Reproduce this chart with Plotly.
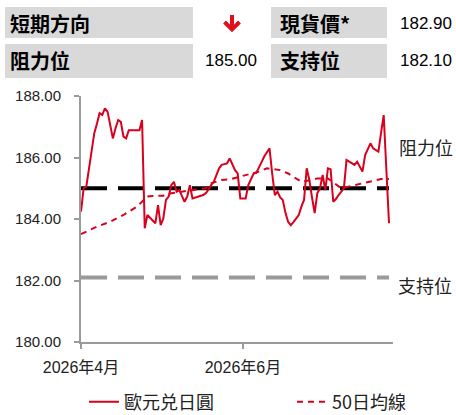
import pandas as pd
import plotly.graph_objects as go

# ---- data ----
start_date = "2026-04-01"
spot_values = [
    184.24, 185.00, 185.05, 185.60, 186.14, 186.79, 187.10, 187.44, 187.38, 187.60,
    187.49, 187.00, 186.62, 186.95, 187.22, 187.16, 186.68, 186.62, 186.89, 186.89,
    186.89, 186.89, 186.89, 187.22, 183.70, 184.13, 184.02, 183.95, 183.86, 184.45,
    183.80, 184.02, 184.62, 184.73, 185.10, 185.21, 184.89, 184.94, 184.75, 184.56,
    184.73, 185.10, 184.67, 184.70, 184.73, 184.75, 184.78, 184.84, 184.95, 185.10,
    185.21, 185.43, 185.65, 185.76, 185.78, 185.81, 185.97, 185.76, 185.59, 185.48,
    184.67, 184.67, 184.67, 185.10, 185.27, 185.48, 185.50, 185.70, 185.85, 186.03,
    186.15, 186.30, 185.48, 184.78, 184.89, 184.70, 184.62, 184.20, 183.91, 183.80,
    183.90, 184.00, 184.13, 184.40, 184.62, 185.65, 185.27, 184.70, 184.19, 184.84,
    185.00, 185.43, 184.94, 185.65, 185.62, 184.56, 184.65, 184.78, 184.90, 185.00,
    185.92, 185.86, 185.80, 185.76, 185.86, 185.70, 185.54, 186.08, 186.30, 186.46,
    186.30, 186.25, 186.19, 186.80, 187.38, 185.60, 183.86,
]
ma_dates = [
    "2026-04-01", "2026-04-03", "2026-04-07", "2026-04-12", "2026-04-17", "2026-04-22",
    "2026-04-24", "2026-04-26", "2026-04-28", "2026-05-02", "2026-05-05", "2026-05-18",
    "2026-05-20", "2026-05-24", "2026-05-27", "2026-06-04", "2026-06-07", "2026-06-10",
    "2026-06-15", "2026-06-18", "2026-06-23", "2026-06-27", "2026-06-29", "2026-07-03",
    "2026-07-08", "2026-07-13", "2026-07-18", "2026-07-23", "2026-07-26",
]
ma_values = [
    183.51, 183.59, 183.75, 183.91, 184.13, 184.40,
    184.56, 184.73, 184.75, 184.76, 184.84, 185.00,
    185.16, 185.27, 185.29, 185.48, 185.54, 185.65,
    185.59, 185.48, 185.21, 185.27, 185.32, 185.32,
    185.00, 185.10, 185.21, 185.30, 185.30,
]
resistance = 185.00
support = 182.10
spot_price = 182.90
x_tick_dates = ["2026-04-01", "2026-06-01"]
x_tick_labels = ["2026年4月", "2026年6月"]
y_ticks = [180, 182, 184, 186, 188]
series_names = ["歐元兑日圓", "50日均線"]

dates = pd.date_range(start_date, periods=len(spot_values), freq="D")

RED = "#d8001c"
GRAY = "#9a9a9a"
BOX = "#d9d9d9"
FONT = "Liberation Sans, Arial, Noto Sans CJK TC, sans-serif"
CJK = "Noto Sans CJK TC, sans-serif"

fig = go.Figure()
fig.add_trace(go.Scatter(
    x=[dates[0], dates[-1]], y=[resistance, resistance], mode="lines",
    line=dict(color="#000000", width=4, dash="26px,11px"), showlegend=False, hoverinfo="skip"))
fig.add_trace(go.Scatter(
    x=[dates[0], dates[-1]], y=[support, support], mode="lines",
    line=dict(color=GRAY, width=4, dash="26px,11px"), showlegend=False, hoverinfo="skip"))
fig.add_trace(go.Scatter(
    x=dates, y=spot_values, mode="lines", name=series_names[0],
    line=dict(color=RED, width=2), legend="legend"))
fig.add_trace(go.Scatter(
    x=pd.to_datetime(ma_dates), y=ma_values, mode="lines", name=series_names[1],
    line=dict(color=RED, width=2, dash="6px,5px"), legend="legend2"))

L, R, T, B = 81, 393, 96, 342
W, H = 456, 415


def px(xp):
    return (xp - L) / (R - L)


def py(yp):
    return (B - yp) / (B - T)


shapes = []
for (x0, x1) in [(5, 193), (271, 387)]:
    for (y0, y1) in [(7, 38), (44, 78)]:
        shapes.append(dict(type="rect", xref="paper", yref="paper",
                           x0=px(x0), x1=px(x1), y0=py(y1), y1=py(y0),
                           fillcolor=BOX, line=dict(width=0), layer="below"))

# red "down" direction arrow
arrow_path = (f"M{px(232)},{py(15)} L{px(232)},{py(29)} "
              f"M{px(224.5)},{py(22)} L{px(232)},{py(29.5)} L{px(239.5)},{py(22)}")
shapes.append(dict(type="path", xref="paper", yref="paper", path=arrow_path,
                   line=dict(color="#e0101c", width=4)))

ann = []
def add_text(text, xp, yp, xanchor, size, bold=False, color="#000000", family=CJK):
    ann.append(dict(text=f"<b>{text}</b>" if bold else text, xref="paper", yref="paper",
                    x=px(xp), y=py(yp), xanchor=xanchor, yanchor="middle",
                    showarrow=False, font=dict(size=size, color=color, family=family)))

add_text("短期方向", 8, 23, "left", 20, bold=True)
add_text("阻力位", 8, 61, "left", 20, bold=True)
add_text("現貨價*", 278, 23, "left", 20, bold=True)
add_text("支持位", 278, 61, "left", 20, bold=True)
add_text(f"{resistance:.2f}", 259, 61, "right", 17, family=FONT)
add_text(f"{spot_price:.2f}", 454, 23, "right", 17, family=FONT)
add_text(f"{support:.2f}", 454, 61, "right", 17, family=FONT)
add_text("阻力位", 397, 147, "left", 18, color="#222222")
add_text("支持位", 396, 285, "left", 18, color="#222222")

leg_common = dict(orientation="h", yanchor="middle", xanchor="left",
                  font=dict(size=18, family=CJK, color="#222222"),
                  bgcolor="rgba(0,0,0,0)", borderwidth=0)

fig.update_layout(
    width=W, height=H,
    margin=dict(l=L, r=W - R, t=T, b=H - B, autoexpand=False),
    paper_bgcolor="white", plot_bgcolor="white",
    font=dict(family=FONT, color="#222222", size=15),
    shapes=shapes, annotations=ann,
    legend=dict(x=px(84), y=py(402), **leg_common),
    legend2=dict(x=px(292), y=py(402), **leg_common),
    showlegend=True,
)
fig.update_xaxes(
    range=[pd.Timestamp(start_date), pd.Timestamp(start_date) + pd.Timedelta(days=117.5)],
    tickvals=pd.to_datetime(x_tick_dates), ticktext=x_tick_labels,
    showline=True, linecolor=GRAY, linewidth=2, ticks="outside", ticklen=5,
    tickcolor=GRAY, tickwidth=1.5, showgrid=False, zeroline=False,
    ticklabelstandoff=5,
    tickfont=dict(size=16, family=FONT, color="#222222"))
fig.update_yaxes(
    range=[180, 188], tickvals=y_ticks, tickformat=".2f",
    showline=True, linecolor=GRAY, linewidth=2, ticks="outside", ticklen=5,
    tickcolor=GRAY, tickwidth=1.5, showgrid=False, zeroline=False,
    ticklabelstandoff=10,
    tickfont=dict(size=15, family=FONT, color="#222222"))

fig.write_html("out.html", config={"displayModeBar": False},
               post_script="document.body.style.margin='0';")
